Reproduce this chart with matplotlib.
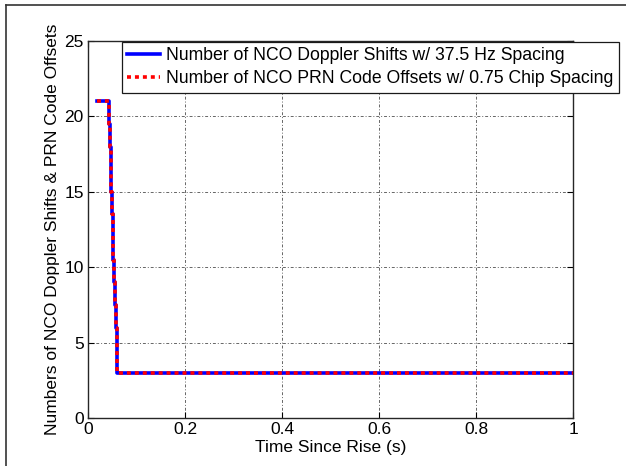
import matplotlib
matplotlib.use("Agg")
import matplotlib.pyplot as plt
from matplotlib.lines import Line2D

plt.rcParams['font.family'] = ['Liberation Sans', 'DejaVu Sans']

# step curve
time_s = [0.019, 0.041, 0.0425, 0.0445, 0.0465, 0.048, 0.0495, 0.051,
          0.0525, 0.0545, 0.0565, 0.058, 0.0595, 0.0605, 1.0]
doppler_shifts = [21, 21, 19.5, 18, 16.5, 15, 13.5, 12, 10.5, 9, 7.5, 6, 4.5, 3, 3]
code_offsets = [21, 21, 19.5, 18, 16.5, 15, 13.5, 12, 10.5, 9, 7.5, 6, 4.5, 3, 3]

x_ticks = [0, 0.2, 0.4, 0.6, 0.8, 1]
x_tick_labels = ['0', '0.2', '0.4', '0.6', '0.8', '1']
y_ticks = [0, 5, 10, 15, 20, 25]

labels = ['Number of NCO Doppler Shifts w/ 37.5 Hz Spacing',
          'Number of NCO PRN Code Offsets w/ 0.75 Chip Spacing']

fs = 12.5
fig = plt.figure(figsize=(6.26, 4.66), dpi=100)
ax = fig.add_axes([88 / 626, 1 - 418 / 466, (573 - 88) / 626, (418 - 41) / 466])

ax.plot(time_s, doppler_shifts, color='#0000ff', lw=2.6, drawstyle='steps-post',
        label=labels[0])
ax.plot(time_s, code_offsets, color='#ff0000', lw=2.6, drawstyle='steps-post',
        linestyle=(0, (1.1, 1.1)), label=labels[1])

ax.set_xlim(0, 1)
ax.set_ylim(0, 25)
ax.set_xticks(x_ticks)
ax.set_xticklabels(x_tick_labels)
ax.set_yticks(y_ticks)
ax.tick_params(direction='in', length=4, width=0.8, labelsize=fs, pad=3,
               top=True, right=True)
ax.grid(True, color='0.4', linestyle=(0, (3, 2, 1, 2)), lw=0.7)
for s in ax.spines.values():
    s.set_color('0.15')
    s.set_linewidth(1.0)

ax.set_xlabel('Time Since Rise (s)', fontsize=fs, labelpad=2)
ax.set_ylabel('Numbers of NCO Doppler Shifts & PRN Code Offsets', fontsize=fs, labelpad=3)

leg = ax.legend(loc='upper left', bbox_to_anchor=(122 / 626, 1 - 42 / 466),
                bbox_transform=fig.transFigure, fontsize=12.7, borderaxespad=0,
                fancybox=False, framealpha=1, edgecolor='0.1',
                handlelength=1.85, handletextpad=0.35, labelspacing=0.35,
                borderpad=0.3)
leg.get_frame().set_linewidth(0.9)

# outer frame of the figure window
fig.add_artist(Line2D([6 / 626, 6 / 626], [0, 1 - 5 / 466], transform=fig.transFigure,
                      color='0.2', lw=1.2))
fig.add_artist(Line2D([6 / 626, 1], [1 - 5 / 466, 1 - 5 / 466], transform=fig.transFigure,
                      color='0.2', lw=1.2))

fig.savefig('out.png', dpi=100)
